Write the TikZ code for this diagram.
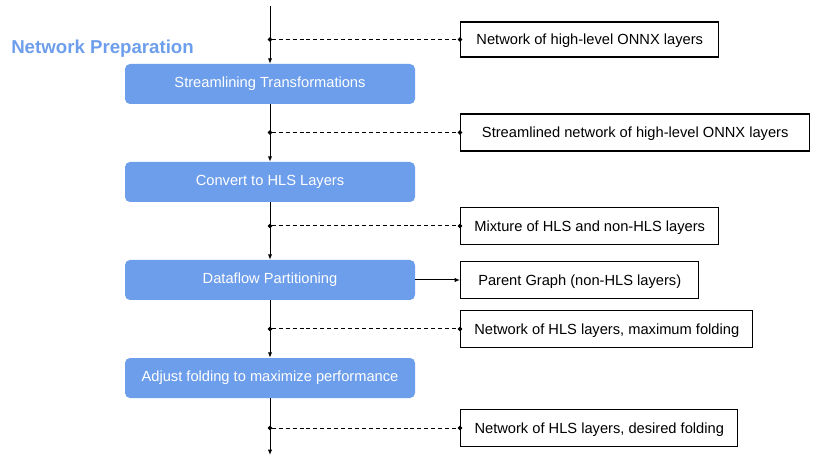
\documentclass[tikz,border=0pt]{standalone}
\usepackage{fontspec}
\setmainfont{Liberation Sans}
\usetikzlibrary{arrows.meta}
\definecolor{stageblue}{HTML}{6D9EEB}

\begin{document}
\begin{tikzpicture}[x=0.75pt,y=-0.75pt,
	font=\fontsize{11pt}{13pt}\selectfont,
	stage/.style={
		fill=stageblue,
		text=white,
		rounded corners=3.75pt,
		minimum width=217.5pt,
		minimum height=30pt,
		text height=7.9pt,
		text depth=3pt,
		inner sep=0pt
	},
	layers/.style={
		draw,
		line width=1.1pt,
		anchor=west,
		minimum height=27.5pt,
		text height=7.9pt,
		text depth=0pt,
		inner sep=0pt
	},
	flow/.style={-{Latex[length=4pt,width=3.2pt]}, line width=0.75pt},
	tap/.style={{Circle[length=3.4pt]}-{Circle[length=3.4pt]}, shorten <=-1.7pt, shorten >=-1.7pt,
		dash pattern=on 3pt off 2.2pt, line width=0.75pt}
	]
	\useasboundingbox (0,0) rectangle (813,459);
	
	\node[anchor=base west, inner sep=0pt, text=stageblue,
	font=\fontsize{14pt}{16pt}\selectfont\bfseries] (title) at (11,54) {Network Preparation};
	
	%Schritte
	\node[stage] (streamline) at (270,84)  {Streamlining Transformations};
	\node[stage] (tohls)      at (270,182) {Convert to HLS Layers};
	\node[stage] (partition)  at (270,280) {Dataflow Partitioning};
	\node[stage] (folding)    at (270,378) {Adjust folding to maximize performance};
	
	%Zwischenergebnisse
	\node[layers, minimum width=193.5pt, minimum height=26.25pt] (onnx) at (460,39.5) {Network of high-level ONNX layers};
	\node[layers, minimum width=261.75pt] (streamlined) at (460,132.5) {Streamlined network of high-level ONNX layers};
	\node[layers, minimum width=193.5pt] (mixture) at (460,226) {Mixture of HLS and non-HLS layers};
	\node[layers, minimum width=178.5pt] (parent)  at (460,280) {Parent Graph (non-HLS layers)};
	\node[layers, minimum width=219pt]   (maxfold) at (460,329) {Network of HLS layers, maximum folding};
	\node[layers, minimum width=207.75pt] (desfold) at (460,428) {Network of HLS layers, desired folding};
	
	\coordinate (in)  at (270,6);
	\coordinate (out) at (270,455);
	
	\draw[flow] (in) -- (streamline);
	\draw[flow] (streamline) -- (tohls);
	\draw[flow] (tohls) -- (partition);
	\draw[flow] (partition) -- (folding);
	\draw[flow] (folding) -- (out);
	\draw[flow] (partition.east) -- (parent.west);
	
	\draw[tap] (in |- onnx.west) -- (onnx.west);
	\draw[tap] (in |- streamlined.west) -- (streamlined.west);
	\draw[tap] (in |- mixture.west) -- (mixture.west);
	\draw[tap] (in |- maxfold.west) -- (maxfold.west);
	\draw[tap] (in |- desfold.west) -- (desfold.west);
\end{tikzpicture}
\end{document}
